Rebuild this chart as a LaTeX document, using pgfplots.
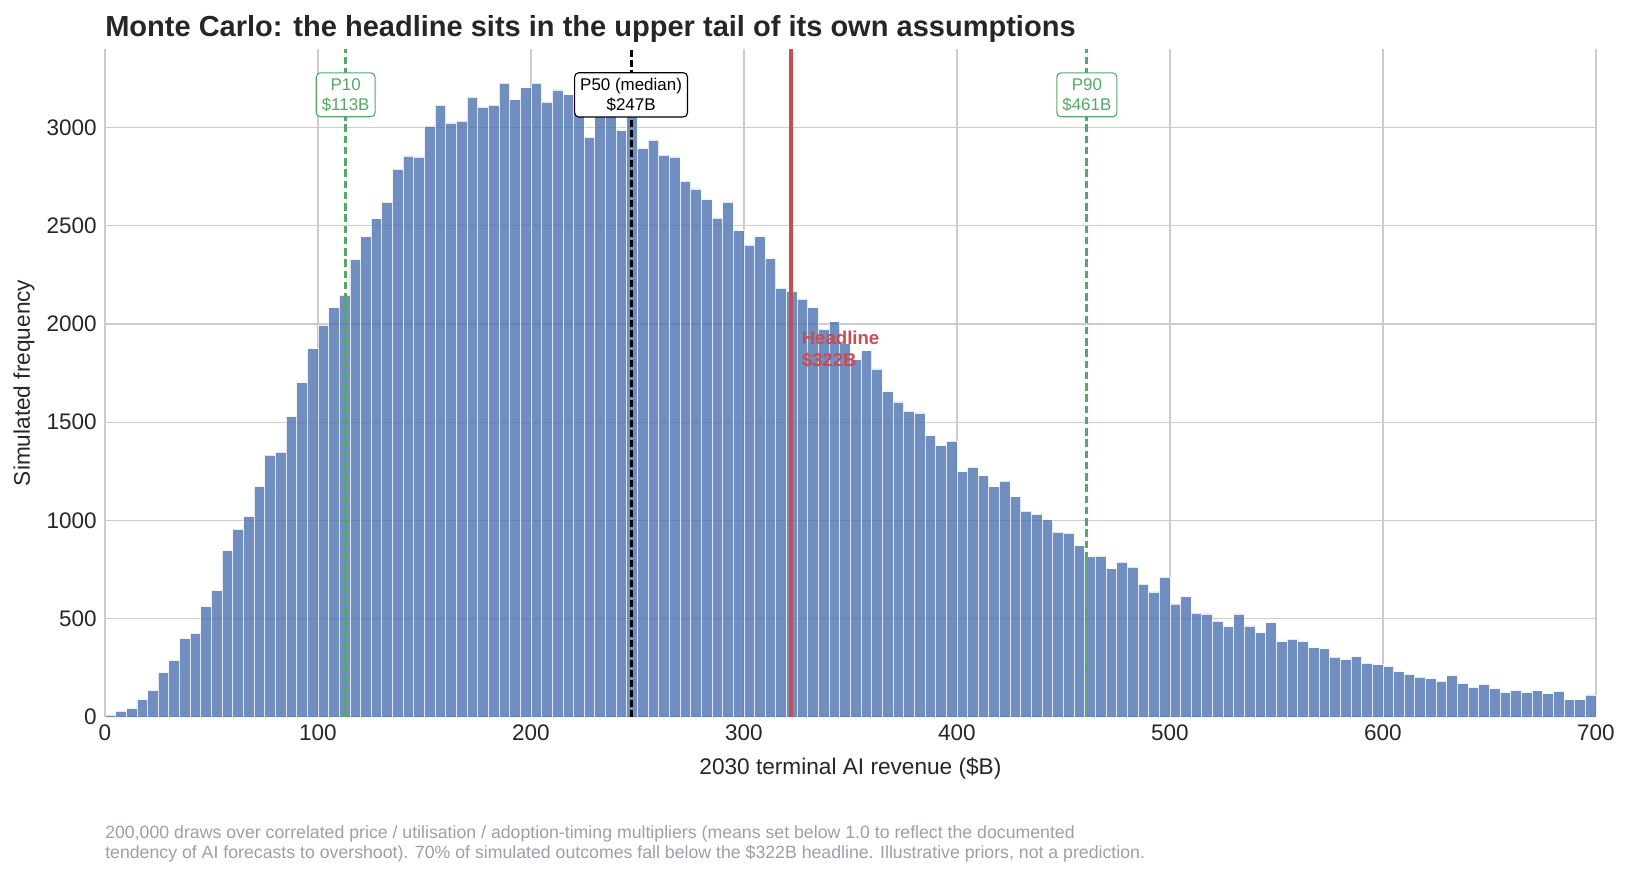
\documentclass[border=0pt]{standalone}
\usepackage{fontspec}
\setmainfont{Liberation Sans}
\usepackage{pgfplots}
\usepackage{pgfplotstable}
\pgfplotsset{compat=1.18}
\definecolor{barblue}{HTML}{4C72B0}
\definecolor{pgreen}{HTML}{55A868}
\definecolor{hred}{HTML}{C44E52}
\definecolor{gridgray}{HTML}{CCCCCC}
\definecolor{txt}{HTML}{262626}
\definecolor{note}{HTML}{9A9FA8}

\pgfplotstableread{
x y
0 10
5 29
10 44
15 88
20 135
25 226
30 287
35 399
40 425
45 562
50 643
55 846
60 954
65 1021
70 1173
75 1332
80 1348
85 1529
90 1702
95 1874
100 1991
105 2082
110 2147
115 2329
120 2445
125 2535
130 2620
135 2788
140 2855
145 2850
150 3007
155 3114
160 3023
165 3032
170 3155
175 3103
180 3114
185 3226
190 3141
195 3202
200 3226
205 3130
210 3191
215 3166
220 3120
225 2949
230 3080
235 3060
240 2985
245 3060
250 2893
255 2935
260 2859
265 2850
270 2727
275 2687
280 2633
285 2539
290 2620
295 2474
300 2402
305 2445
310 2333
315 2183
320 2165
325 2127
330 2082
335 1973
340 2011
345 1900
350 1818
355 1863
360 1771
365 1655
370 1603
375 1556
380 1547
385 1431
390 1381
395 1404
400 1247
405 1272
410 1227
415 1171
420 1200
425 1120
430 1048
435 1032
440 1003
445 940
450 936
455 871
460 815
465 819
470 755
475 788
480 763
485 676
490 636
495 712
500 575
505 611
510 528
515 524
520 488
525 459
530 524
535 463
540 428
545 479
550 383
555 396
560 383
565 352
570 347
575 305
580 291
585 307
590 273
595 266
600 257
605 231
610 217
615 202
620 195
625 181
630 210
635 170
640 150
645 166
650 143
655 125
660 134
665 125
670 134
675 119
680 130
685 87
690 87
695 112
700 112
}\histdata

\begin{document}
\begin{tikzpicture}[x=1pt,y=1pt]
\path[use as bounding box] (-75.6,-114.5) rectangle (1098,516.2);
\begin{axis}[
  at={(0,0)}, anchor=south west,
  scale only axis, width=1073.5pt, height=481pt,
  xmin=0, xmax=700, ymin=0, ymax=3400,
  xtick={0,100,...,700}, ytick={0,500,...,3000},
  grid=major,
  major grid style={gridgray, line width=1pt},
  axis lines*=left,
  axis line style={gridgray, line width=1pt},
  major tick length=0pt,
  /pgf/number format/assume math mode=true,
  /pgf/number format/1000 sep={},
  tick label style={font=\fontsize{16.2}{19}\selectfont, text=txt, inner sep=0pt},
  xticklabel shift=5.4pt,
  yticklabel shift=5.8pt,
  clip=false,
]
\addplot[ybar interval, fill=barblue, draw=white, opacity=0.8, line width=0.6pt] table[x=x,y=y]{\histdata};
\addplot[draw=pgreen, dash pattern=on 5.5pt off 2.6pt, line width=2.2pt] coordinates {(113,0) (113,3400)};
\addplot[draw=pgreen, dash pattern=on 5.5pt off 2.6pt, line width=2.2pt] coordinates {(461,0) (461,3400)};
\addplot[draw=black, dash pattern=on 4.8pt off 2.4pt, line width=2.2pt] coordinates {(247,0) (247,3400)};
\addplot[draw=hred, line width=3pt] coordinates {(322,0) (322,3400)};
\node[draw=pgreen, text=pgreen, fill=white, rounded corners=3pt, align=center, inner sep=4pt, line width=0.8pt, font=\fontsize{12.2}{14.2}\selectfont] at (axis cs:113,3166) {P10\\\$113B};
\node[draw=pgreen, text=pgreen, fill=white, rounded corners=3pt, align=center, inner sep=4pt, line width=0.8pt, font=\fontsize{12.2}{14.2}\selectfont] at (axis cs:461,3166) {P90\\\$461B};
\node[draw=black, text=black, fill=white, rounded corners=3pt, align=center, inner sep=4pt, line width=0.8pt, font=\fontsize{12.2}{14.2}\selectfont] at (axis cs:247,3166) {P50 (median)\\\$247B};
\node[text=hred, anchor=west, align=left, inner sep=0pt, font=\fontsize{13.4}{15.5}\selectfont\bfseries] at (axis cs:327,1871) {Headline\\\$322B};
\end{axis}
\node[anchor=base west, inner sep=0pt, text=txt, font=\fontsize{20.9}{25}\selectfont\bfseries] at (0,490) {Monte Carlo: the headline sits in the upper tail of its own assumptions};
\node[anchor=base, inner sep=0pt, text=txt, font=\fontsize{16.3}{19}\selectfont] at (536.7,-41.8) {2030 terminal AI revenue (\$B)};
\node[rotate=90, anchor=center, inner sep=0pt, text=txt, font=\fontsize{16.3}{19}\selectfont] at (-58.3,240.5) {Simulated frequency};
\node[anchor=base west, inner sep=0pt, text=note, font=\fontsize{12.75}{15}\selectfont] at (0,-87.8) {200,000 draws over correlated price / utilisation / adoption-timing multipliers (means set below 1.0 to reflect the documented};
\node[anchor=base west, inner sep=0pt, text=note, font=\fontsize{12.75}{15}\selectfont] at (0,-101.9) {tendency of AI forecasts to overshoot). 70\% of simulated outcomes fall below the \$322B headline. Illustrative priors, not a prediction.};
\end{tikzpicture}
\end{document}
